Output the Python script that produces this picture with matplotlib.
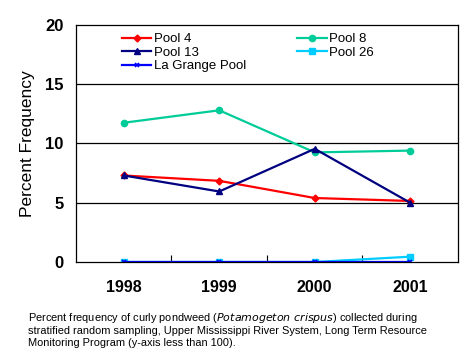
import matplotlib
matplotlib.use('Agg')
import matplotlib.pyplot as plt

plt.rcParams['font.family'] = ['Liberation Sans', 'DejaVu Sans']

years = ['1998', '1999', '2000', '2001']
pool4 = [7.3, 6.85, 5.4, 5.15]
pool8 = [11.75, 12.8, 9.25, 9.4]
pool13 = [7.3, 5.95, 9.55, 5.0]
pool26 = [0.0, 0.0, 0.0, 0.45]
lagrange = [0.0, 0.0, 0.0, 0.0]

fig = plt.figure(figsize=(4.68, 3.6), dpi=100)
ax = fig.add_axes([0.1624, 0.2722, 0.8162, 0.6584])

x = range(len(years))
h4, = ax.plot(x, pool4, color='#FF0000', marker='D', markersize=3.5, lw=1.6, label='Pool 4')
h8, = ax.plot(x, pool8, color='#00CC99', marker='o', markersize=4.5, lw=1.6, label='Pool 8')
h13, = ax.plot(x, pool13, color='#000080', marker='^', markersize=5, lw=1.6, label='Pool 13')
h26, = ax.plot(x, pool26, color='#00CCFF', marker='s', markersize=4, lw=1.6, label='Pool 26')
hlg, = ax.plot(x, lagrange, color='#0000FF', marker='x', markersize=3.5, mew=1.2, lw=1.6,
               label='La Grange Pool')

ax.set_xlim(-0.5, 3.5)
ax.set_ylim(0, 20)
ax.set_yticks([0, 5, 10, 15, 20])
ax.set_xticks(x)
ax.set_xticklabels(years, fontsize=11.5, fontweight='bold')
ax.set_xticks([0.5, 1.5, 2.5], minor=True)
ax.tick_params(axis='x', which='major', length=0, pad=13)
ax.tick_params(axis='x', which='minor', direction='in', length=5, width=0.8)
ax.tick_params(axis='y', length=0, labelsize=12, pad=9)
for lab in ax.get_yticklabels():
    lab.set_fontweight('bold')
for yv in [5, 10, 15]:
    ax.axhline(yv, color='black', lw=0.9, zorder=0)
for s in ax.spines.values():
    s.set_linewidth(0.9)

ax.set_ylabel('Percent Frequency', fontsize=12.5)
ax.yaxis.set_label_coords(-0.108, 0.5)

# row-major order like the original: Pool 4, Pool 8 / Pool 13, Pool 26 / La Grange
ax.legend([h4, h13, hlg, h8, h26],
          ['Pool 4', 'Pool 13', 'La Grange Pool', 'Pool 8', 'Pool 26'],
          loc='upper left', bbox_to_anchor=(0.1, 1.0), ncol=2, frameon=False,
          fontsize=9.5, handlelength=2.2, handletextpad=0.2, labelspacing=0.1,
          columnspacing=3.9, borderaxespad=0.2)

fig.text(0.06, 0.137,
         'Percent frequency of curly pondweed ($\\it{Potamogeton\\ crispus}$) collected during\n'
         'stratified random sampling, Upper Mississippi River System, Long Term Resource\n'
         'Monitoring Program (y-axis less than 100).',
         fontsize=7.9, va='top', ha='left', linespacing=1.2)

fig.savefig('out.png', dpi=100)
